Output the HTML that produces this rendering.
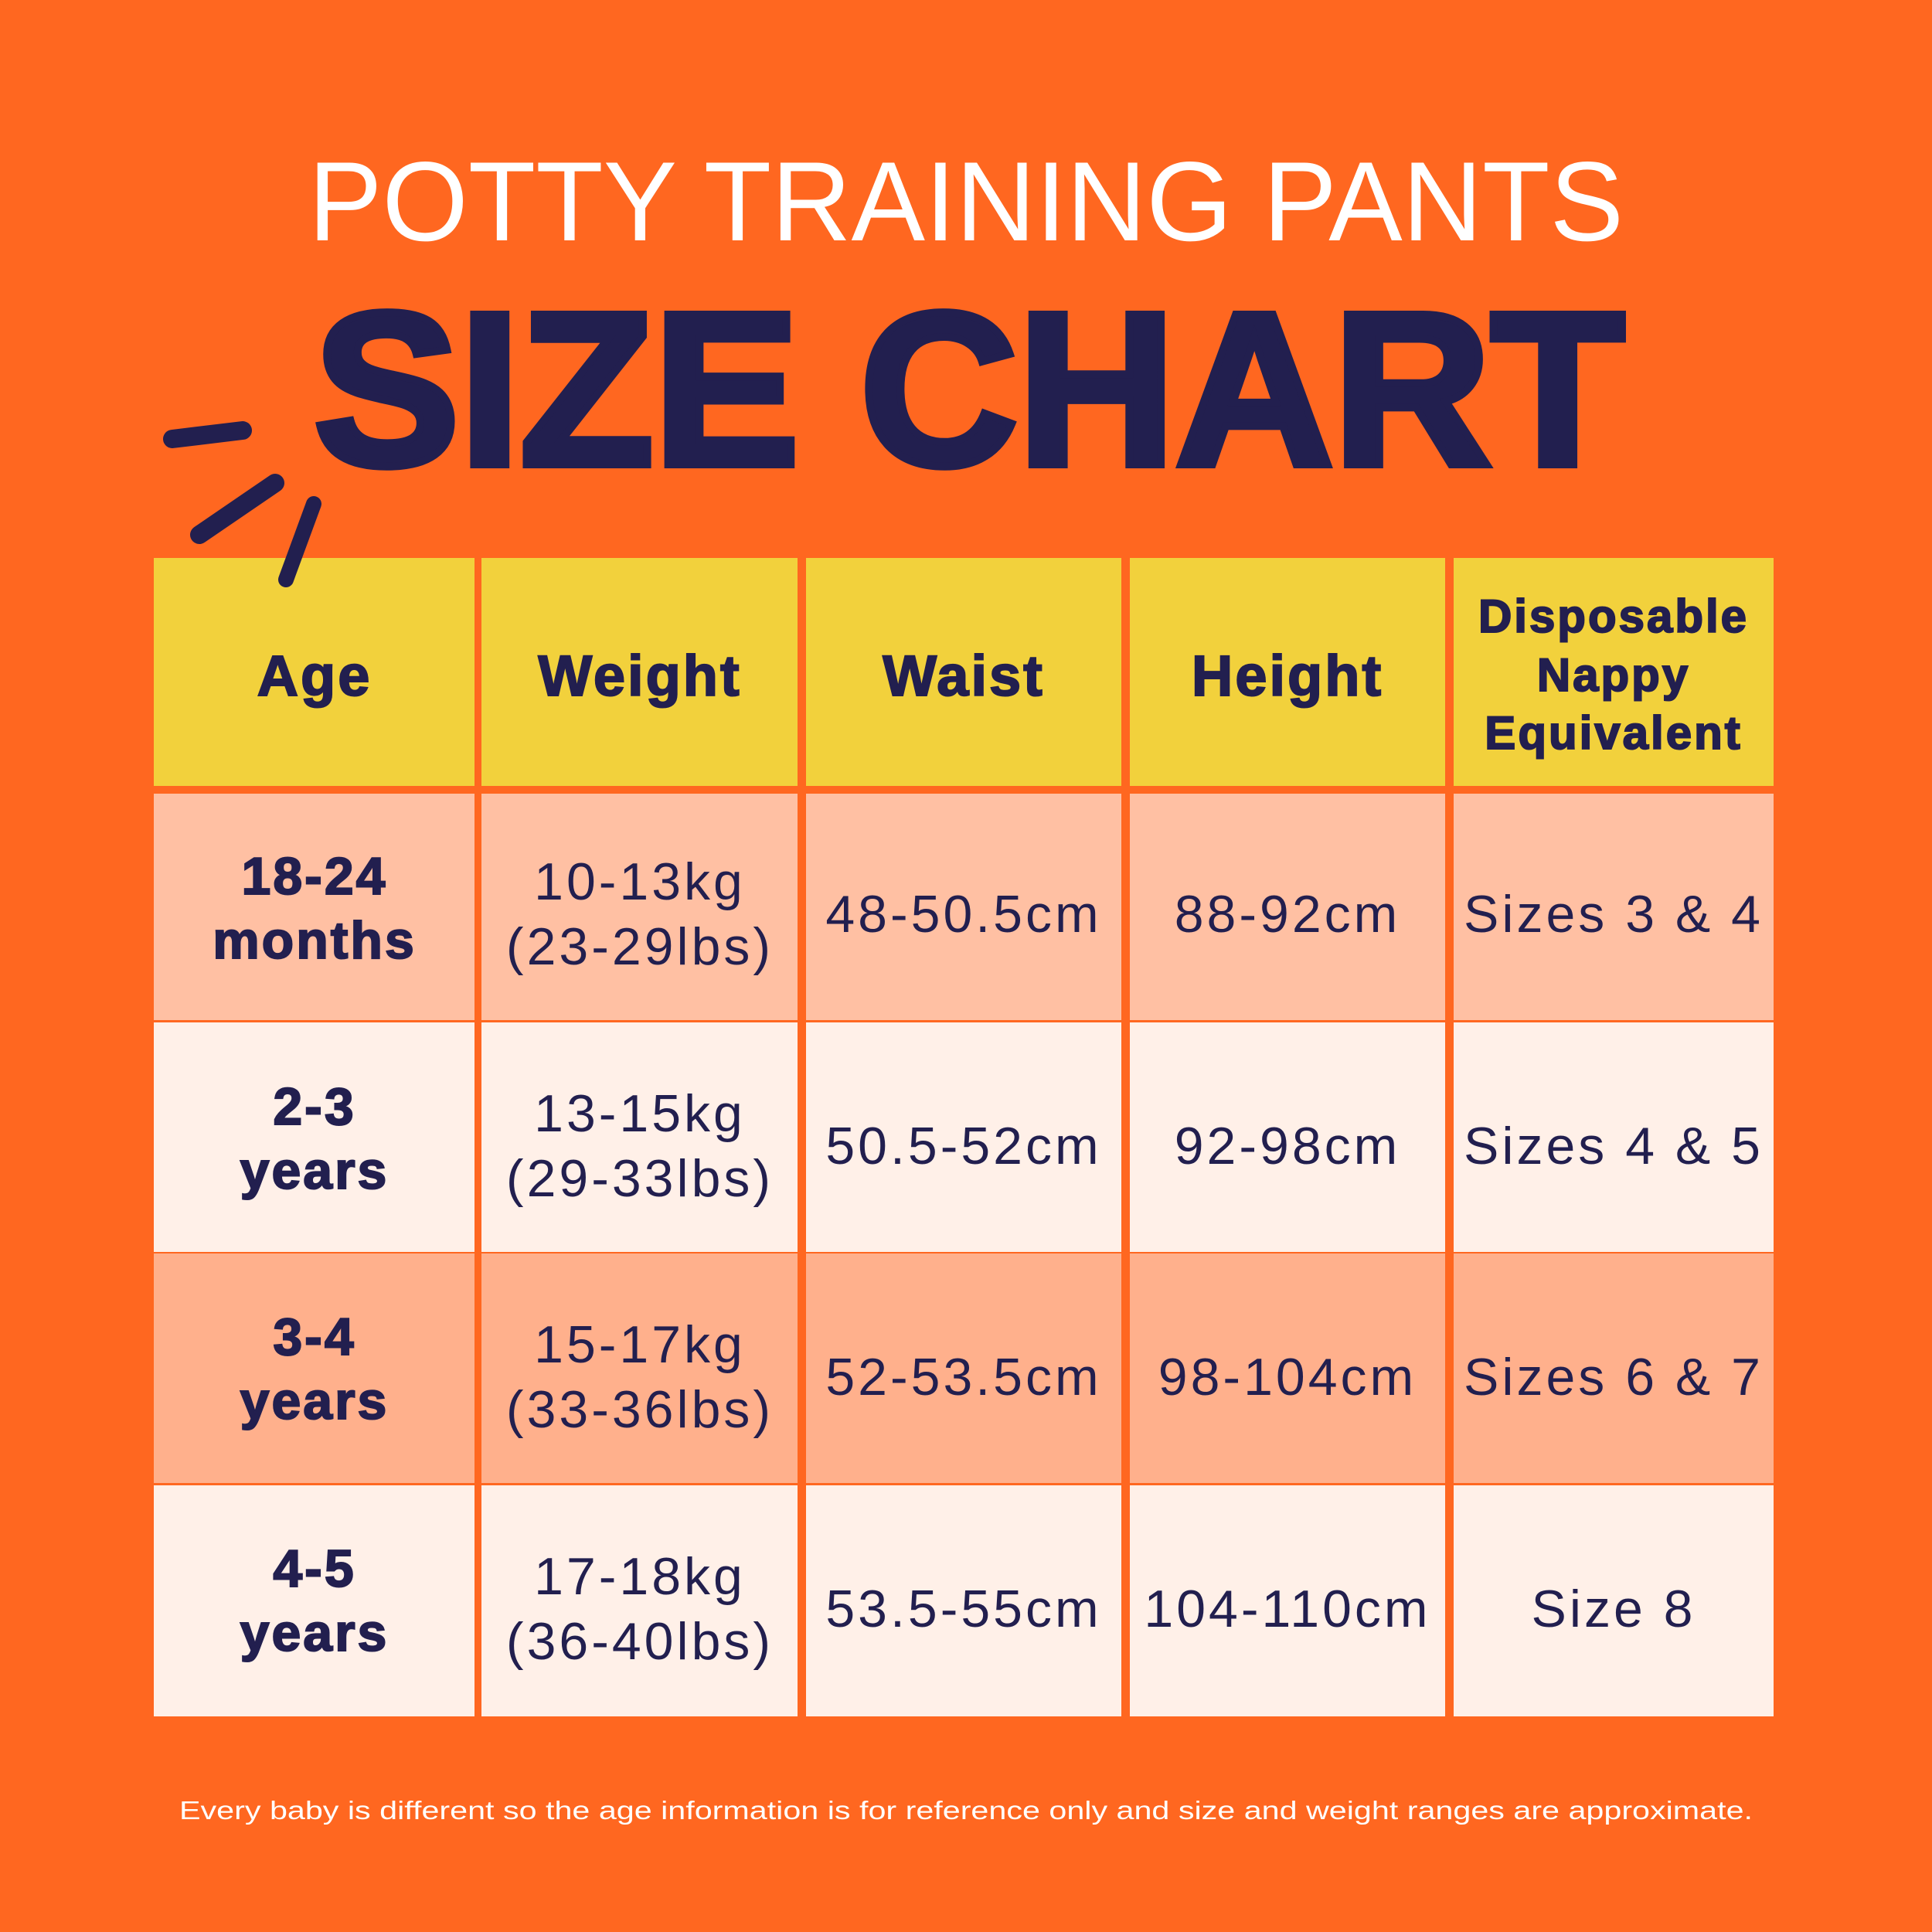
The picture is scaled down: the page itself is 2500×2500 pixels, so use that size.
<!DOCTYPE html>
<html><head><meta charset="utf-8"><style>
html,body{margin:0;padding:0;background:#FF6720;}
svg{display:block;}
</style></head><body>
<svg width="2500" height="2500" viewBox="0 0 2500 2500" xmlns="http://www.w3.org/2000/svg" font-family="Liberation Sans, sans-serif">
<rect width="2500" height="2500" fill="#FF6720"/>
<text x="1250" y="311" text-anchor="middle" font-size="146" fill="#FFFFFF" textLength="1702" lengthAdjust="spacingAndGlyphs">POTTY TRAINING PANTS</text>
<text x="1254" y="601" text-anchor="middle" font-size="282" font-weight="bold" fill="#221F4F" textLength="1696" lengthAdjust="spacingAndGlyphs" stroke="#221F4F" stroke-width="10">SIZE CHART</text>
<!-- header -->
<g fill="#F2D13C">
<rect x="199" y="722" width="415" height="295"/>
<rect x="623" y="722" width="409" height="295"/>
<rect x="1043" y="722" width="408" height="295"/>
<rect x="1462" y="722" width="408" height="295"/>
<rect x="1881" y="722" width="414" height="295"/>
</g>
<g>
<g fill="#FFC0A3"><rect x="199" y="1027" width="415" height="293"/><rect x="623" y="1027" width="409" height="293"/><rect x="1043" y="1027" width="408" height="293"/><rect x="1462" y="1027" width="408" height="293"/><rect x="1881" y="1027" width="414" height="293"/></g>
<g fill="#FFF0E8"><rect x="199" y="1323" width="415" height="297"/><rect x="623" y="1323" width="409" height="297"/><rect x="1043" y="1323" width="408" height="297"/><rect x="1462" y="1323" width="408" height="297"/><rect x="1881" y="1323" width="414" height="297"/></g>
<g fill="#FFB08C"><rect x="199" y="1622" width="415" height="297"/><rect x="623" y="1622" width="409" height="297"/><rect x="1043" y="1622" width="408" height="297"/><rect x="1462" y="1622" width="408" height="297"/><rect x="1881" y="1622" width="414" height="297"/></g>
<g fill="#FFF0E8"><rect x="199" y="1922" width="415" height="299"/><rect x="623" y="1922" width="409" height="299"/><rect x="1043" y="1922" width="408" height="299"/><rect x="1462" y="1922" width="408" height="299"/><rect x="1881" y="1922" width="414" height="299"/></g>
</g>
<g stroke="#221F4F" stroke-linecap="round" fill="none">
<path d="M223 568 L314 557" stroke-width="24"/>
<path d="M258 692 L356 625" stroke-width="24"/>
<path d="M406 652 L370 750" stroke-width="20"/>
</g>
<g fill="#221F4F" font-weight="bold" text-anchor="middle" font-size="74" stroke="#221F4F" stroke-width="2" letter-spacing="3">
<text x="407" y="900">Age</text>
<text x="828" y="900">Weight</text>
<text x="1247" y="900">Waist</text>
<text x="1666" y="900">Height</text>
<text x="2088" y="818" font-size="60">Disposable</text>
<text x="2088" y="894" font-size="60">Nappy</text>
<text x="2088" y="969" font-size="60">Equivalent</text>
</g>
<g fill="#221F4F" font-weight="bold" text-anchor="middle" font-size="68" stroke="#221F4F" stroke-width="2" letter-spacing="3">
<text x="407" y="1157">18-24</text><text x="407" y="1240">months</text>
<text x="407" y="1455">2-3</text><text x="407" y="1538">years</text>
<text x="407" y="1753">3-4</text><text x="407" y="1836">years</text>
<text x="407" y="2053">4-5</text><text x="407" y="2136">years</text>
</g>
<g fill="#221F4F" text-anchor="middle" font-size="68" letter-spacing="4">
<text x="828" y="1164">10-13kg</text><text x="828" y="1248">(23-29lbs)</text>
<text x="828" y="1464">13-15kg</text><text x="828" y="1548">(29-33lbs)</text>
<text x="828" y="1763">15-17kg</text><text x="828" y="1847">(33-36lbs)</text>
<text x="828" y="2063">17-18kg</text><text x="828" y="2147">(36-40lbs)</text>
<text x="1247" y="1206">48-50.5cm</text>
<text x="1247" y="1506">50.5-52cm</text>
<text x="1247" y="1805">52-53.5cm</text>
<text x="1247" y="2105">53.5-55cm</text>
<text x="1666" y="1206">88-92cm</text>
<text x="1666" y="1506">92-98cm</text>
<text x="1666" y="1805">98-104cm</text>
<text x="1666" y="2105">104-110cm</text>
<text x="2088" y="1206">Sizes 3 &amp; 4</text>
<text x="2088" y="1506">Sizes 4 &amp; 5</text>
<text x="2088" y="1805">Sizes 6 &amp; 7</text>
<text x="2088" y="2105">Size 8</text>
</g>
<text x="1250" y="2354" text-anchor="middle" font-size="33" fill="#FFFFFF" textLength="2036" lengthAdjust="spacingAndGlyphs">Every baby is different so the age information is for reference only and size and weight ranges are approximate.</text>
</svg>
</body></html>
